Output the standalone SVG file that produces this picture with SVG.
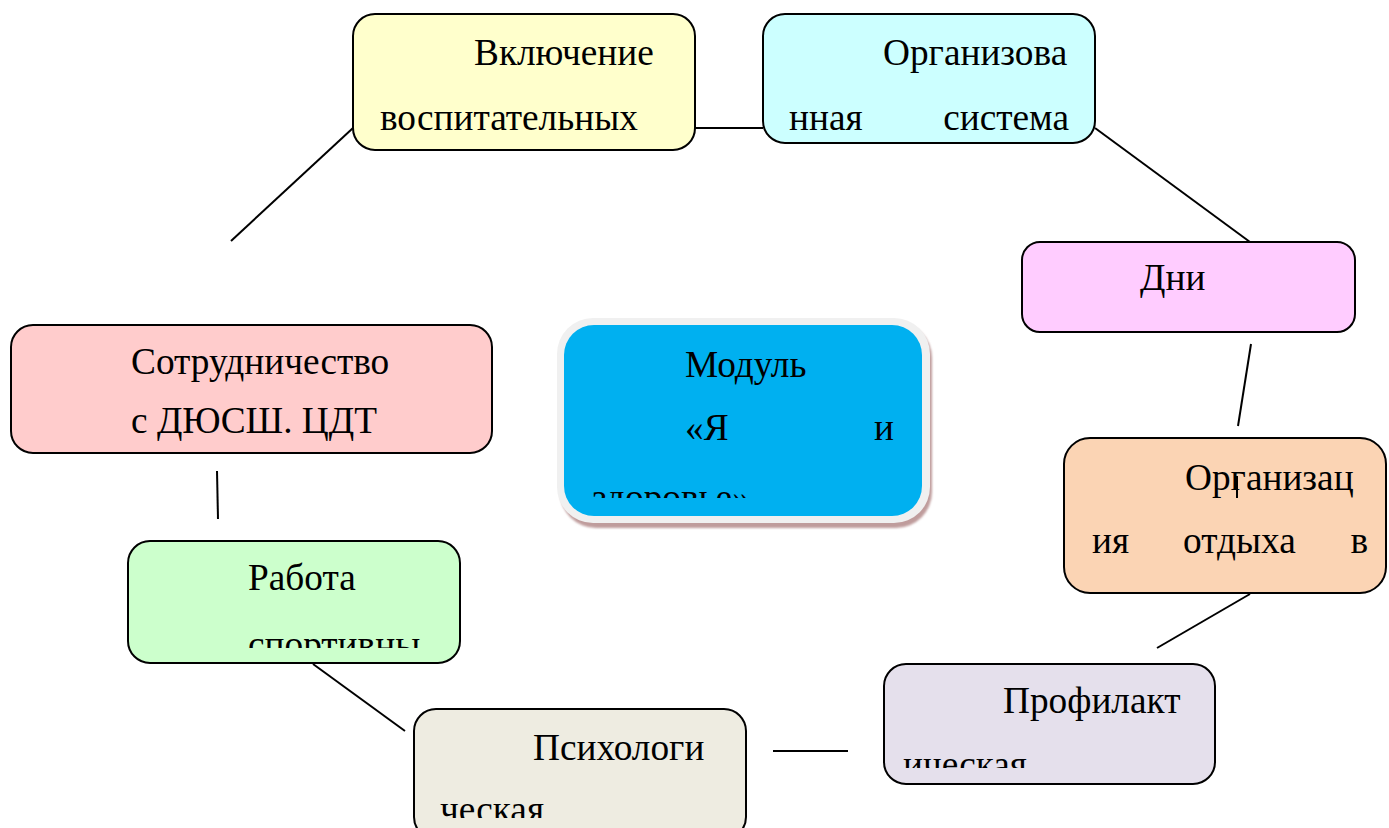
<svg xmlns="http://www.w3.org/2000/svg" width="1389" height="828" viewBox="0 0 1389 828">
<style>
.box{stroke:#000;stroke-width:2}
.t{font-family:"Liberation Serif","Times New Roman",serif;font-size:37.3px;fill:#000}
.c{stroke:#000;stroke-width:2;fill:none}
</style>
<defs>
<clipPath id="clipMod"><rect x="564" y="325" width="358" height="173"/></clipPath>
<clipPath id="clipRab"><rect x="128" y="541" width="332" height="107"/></clipPath>
<clipPath id="clipPsy"><rect x="414" y="709" width="332" height="109"/></clipPath>
<clipPath id="clipPro"><rect x="884" y="664" width="331" height="104"/></clipPath>
<filter id="sh" x="-10%" y="-10%" width="120%" height="130%"><feGaussianBlur stdDeviation="1"/></filter>
</defs>
<rect width="1389" height="828" fill="#fff"/>
<g id="connectors">
<line class="c" x1="353" y1="128" x2="231" y2="241"/>
<line class="c" x1="695" y1="128" x2="763" y2="128"/>
<line class="c" x1="1095" y1="128" x2="1250" y2="242"/>
<line class="c" x1="1251" y1="344" x2="1238" y2="426"/>
<line class="c" x1="1250" y1="594" x2="1157" y2="648"/>
<line class="c" x1="773" y1="751" x2="848" y2="751"/>
<line class="c" x1="313" y1="664" x2="405" y2="731"/>
<line class="c" x1="217" y1="471" x2="218" y2="519"/>
</g>
<g id="node-vkl">
<rect class="box" x="353" y="14" width="342" height="136" rx="22" fill="#FFFFCC"/>
<text class="t" x="474" y="65">Включение</text>
<text class="t" x="380" y="130">воспитательных</text>
</g>
<g id="node-org">
<rect class="box" x="763" y="14" width="332" height="129" rx="22" fill="#CCFFFF"/>
<text class="t" x="883" y="65">Организова</text>
<text class="t" x="789" y="130">нная</text>
<text class="t" x="1069" y="130" text-anchor="end">система</text>
</g>
<g id="node-dni">
<rect class="box" x="1022" y="242" width="333" height="90" rx="18" fill="#FFCCFF"/>
<text class="t" x="1140" y="290">Дни</text>
</g>
<g id="node-otdyh">
<rect class="box" x="1064" y="438" width="322" height="155" rx="26" fill="#FBD4B4"/>
<text class="t" x="1185" y="490">Организац</text>
<line class="c" x1="1237" y1="476" x2="1237" y2="498"/>
<text class="t" x="1092" y="553">ия</text>
<text class="t" x="1183" y="553">отдыха</text>
<text class="t" x="1368" y="553" text-anchor="end">в</text>
</g>
<g id="node-prof">
<rect class="box" x="884" y="664" width="331" height="120" rx="22" fill="#E5E0EC"/>
<text class="t" x="1003" y="713">Профилакт</text>
<text class="t" x="903" y="777" clip-path="url(#clipPro)">ическая</text>
</g>
<g id="node-psy">
<rect class="box" x="414" y="709" width="332" height="130" rx="22" fill="#EEECE1"/>
<text class="t" x="533" y="760">Психологи</text>
<text class="t" x="440" y="822" clip-path="url(#clipPsy)">ческая</text>
</g>
<g id="node-rab">
<rect class="box" x="128" y="541" width="332" height="122" rx="22" fill="#CCFFCC"/>
<text class="t" x="248" y="590">Работа</text>
<text class="t" x="248" y="657" clip-path="url(#clipRab)">спортивны</text>
</g>
<g id="node-sotr">
<rect class="box" x="11" y="325" width="481" height="128" rx="22" fill="#FFCCCC"/>
<text class="t" x="131" y="374">Сотрудничество</text>
<text class="t" x="131" y="433">с ДЮСШ. ЦДТ</text>
</g>
<g id="node-modul">
<rect x="560" y="322" width="372" height="206" rx="36" fill="#BF9C9C" filter="url(#sh)"/>
<rect x="557" y="318" width="373" height="205" rx="36" fill="#F0F0F0"/>
<rect x="564" y="325" width="358" height="191" rx="30" fill="#00B0F0"/>
<text class="t" x="685" y="377">Модуль</text>
<text class="t" x="685" y="440">«Я</text>
<text class="t" x="894" y="440" text-anchor="end">и</text>
<text class="t" x="592" y="510" clip-path="url(#clipMod)">здоровье»</text>
</g>
</svg>
